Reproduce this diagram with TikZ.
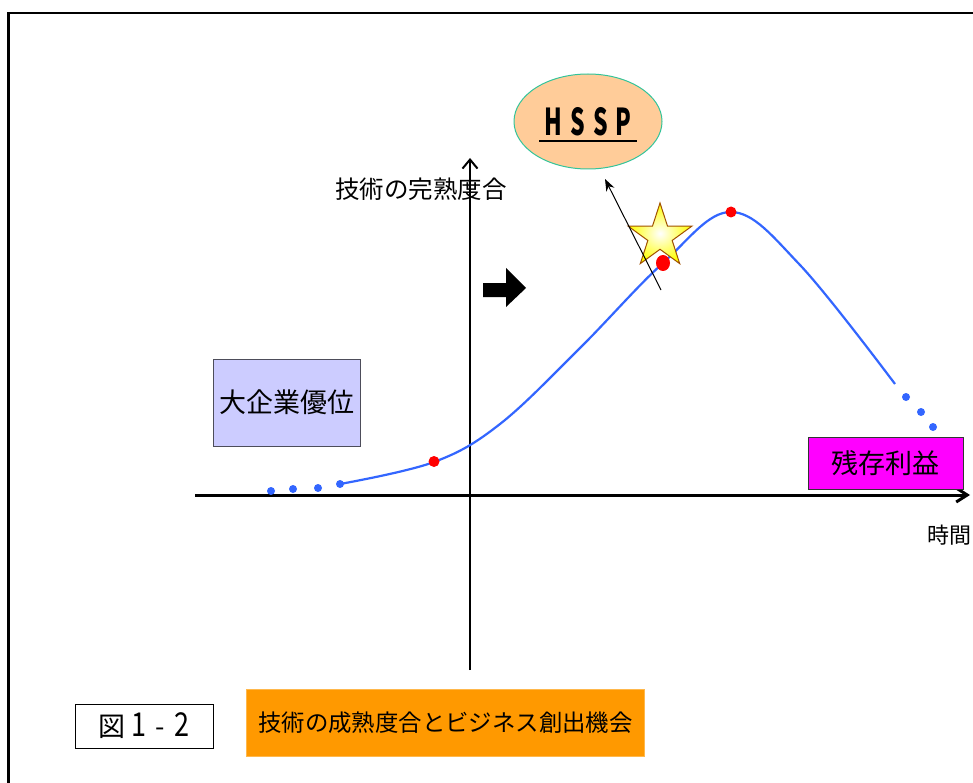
\documentclass[tikz,border=0pt]{standalone}
\usepackage{fontspec}
\setmainfont{Noto Sans CJK JP}
\newfontfamily\jp{Noto Sans CJK JP}
\usetikzlibrary{shapes.geometric,arrows.meta}
\definecolor{curveblue}{HTML}{3366FF}
\definecolor{peach}{HTML}{FFCC99}
\definecolor{teal2}{HTML}{33C49A}
\definecolor{lav}{HTML}{CCCCFF}
\definecolor{boxgray}{HTML}{4D4D5A}
\definecolor{magen}{HTML}{FF00FF}
\definecolor{orng}{HTML}{FF9900}
\definecolor{starbrown}{HTML}{A05000}
\definecolor{dotred}{HTML}{FF0000}
\begin{document}
\begin{tikzpicture}[x=1pt,y=-1pt,
  jpf/.style={font=\jp\fontsize{#1}{#1}\selectfont},
  labelbox/.style={draw=boxgray, line width=1pt, inner sep=0pt},
  bluedot/.style={circle, fill=curveblue, inner sep=0pt, minimum size=8pt},
  reddot/.style={circle, fill=dotred, inner sep=0pt, minimum size=11pt},
  curveline/.style={draw=curveblue, line width=2.2pt},
]
\useasboundingbox (0,0) rectangle (973,783);
\clip (0,0) rectangle (973,783);
\fill[white] (0,0) rectangle (973,783);
% frame
\draw[line width=2.7pt] (8.7,13) rectangle (1000,820);

% axis labels
\node[jpf=24.5, inner sep=0] (ylab) at (421,189) {技術の完熟度合};
\node[jpf=22, inner sep=0, anchor=west] (xlab) at (927,535) {時間};

% axes
\coordinate (ybot) at (470,670);
\coordinate (ytop) at (470,158);
\draw[line width=2pt, -{Straight Barb[length=9pt,width=15pt]}] (ybot) -- (ytop);
\coordinate (xl) at (195,495);
\coordinate (xr) at (970,495);
\draw[line width=3pt, -{Straight Barb[length=11pt,width=14pt]}] (xl) -- (xr);

% block arrow
\fill[black] (483,283) -- (506,283) -- (506,268) -- (526,288) -- (506,307) -- (506,297) -- (483,297) -- cycle;

% HSSP ellipse
\node[ellipse, draw=teal2, fill=peach, line width=1pt, minimum width=148pt, minimum height=95pt, inner sep=0pt,
      font=\jp\bfseries\fontsize{37}{37}\selectfont] (hssp) at (588,121.5)
  {\raisebox{-2pt}{\scalebox{0.62}[1]{H\hspace{14pt}S\hspace{12pt}S\hspace{13pt}P}}};
\draw[line width=2.5pt] (539,141) -- (637,141);

% boxes
\node[labelbox, fill=lav, minimum width=147pt, minimum height=87pt, jpf=27] (big) at (286.5,402.5) {大企業優位};
\node[labelbox, draw=black!80, fill=magen, minimum width=155pt, minimum height=52pt, jpf=27] (rem) at (885.5,463) {残存利益};
\node[labelbox, draw=black, fill=white, minimum width=138pt, minimum height=44pt, jpf=27] (fig) at (144,726)
  {図\hspace{6pt}\scalebox{1}[1.22]{1}\hspace{9pt}-\hspace{9pt}\scalebox{1}[1.22]{2}};
\node[fill=orng, draw=orng!70!white, line width=0.6pt, minimum width=398pt, minimum height=67pt, inner sep=0pt, jpf=23.4] (ttl) at (445.5,722.5) {技術の成熟度合とビジネス創出機会};

% curve
\draw[curveline] plot[smooth, tension=0.6] coordinates {
 (340,484) (434,462) (500,424) (580,348) (663,263) (731,212) (800,265) (895,384)};

% blue dots
\node[bluedot] (l1) at (271,491) {};
\node[bluedot] (l2) at (293,489) {};
\node[bluedot] (l3) at (318,488) {};
\node[bluedot] (l4) at (340,484) {};
\node[bluedot] (r1) at (906,397) {};
\node[bluedot] (r2) at (921,412) {};
\node[bluedot] (r3) at (933,427) {};

% red dots
\node[reddot] (d1) at (434,461.5) {};
\node[reddot] (d3) at (731,212) {};

% star
\node[star, star points=5, star point ratio=2.618, minimum size=67pt, inner sep=0pt,
      draw=starbrown, line width=1pt, shading=radial, inner color=white, outer color=yellow] (st) at (660,236.5) {};

% red dot near star
\node[ellipse, fill=dotred, inner sep=0pt, minimum width=14pt, minimum height=16pt] (d2) at (663,263) {};

% thin arrow
\coordinate (as) at (661,290);
\coordinate (ae) at (605,179);
\draw[line width=1pt, -{Stealth[length=12pt,width=9pt]}] (as) -- (ae);
\end{tikzpicture}
\end{document}
